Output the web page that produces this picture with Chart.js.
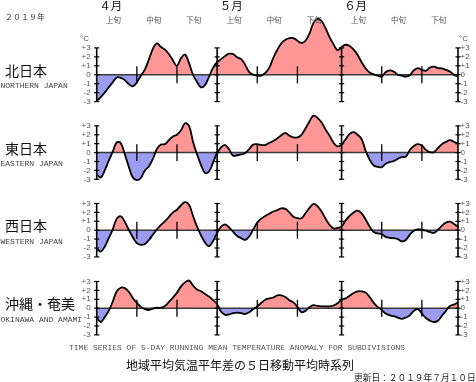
<!DOCTYPE html>
<html><head><meta charset="utf-8">
<script src="https://cdn.jsdelivr.net/npm/chart.js@4.4.0/dist/chart.umd.min.js"></script>
<style>
html,body{margin:0;padding:0;background:#fff;}
body{width:476px;height:382px;position:relative;overflow:hidden;font-family:"Noto Sans CJK JP","DejaVu Sans",sans-serif;}
canvas{position:absolute;left:0;}
.t{position:absolute;white-space:nowrap;line-height:1;transform:translateY(-50%);}
.c{transform:translate(-50%,-50%);}
.mono{font-family:"Liberation Mono","DejaVu Sans Mono",monospace;}
</style></head><body>
<script>
// ---- categories: days from April 1 to June 30, 2019 ----
const monthNums = [4, 5, 6];
const monthLengths = [30, 31, 30];
const dayLabels = [];
monthNums.forEach((m, k) => { for (let d = 1; d <= monthLengths[k]; d++) dayLabels.push(m + '/' + d); });

// ---- series: 5-day running mean temperature anomaly (°C) ----
const north = [-2.95,-2.5,-2.0,-1.4,-0.85,-0.3,-0.35,-0.6,-1.05,-1.3,
  -0.85,-0.1,0.6,1.7,2.9,3.5,3.1,2.8,2.3,1.6,
  1.0,1.85,2.25,1.3,0.0,-0.8,-1.4,-1.15,-0.2,0.8,
  1.4,1.75,2.1,2.35,2.3,1.95,1.75,1.1,0.3,0.0,
  -0.1,-0.1,0.2,0.8,1.9,2.8,3.5,3.9,4.1,4.1,
  3.8,3.55,3.8,4.6,5.8,6.25,6.0,5.2,4.2,3.4,
  2.75,3.1,3.35,3.2,2.8,2.2,1.4,0.7,0.25,0.05,
  -0.1,-0.2,0.3,0.5,0.35,0.0,-0.1,-0.2,-0.05,0.5,
  0.75,0.55,0.45,0.8,0.9,0.75,0.7,0.55,0.35,0.0,-0.2];
const east = [-2.45,-2.8,-2.0,-0.9,0.1,1.15,1.05,-0.2,-1.6,-2.8,
  -3.1,-2.85,-2.0,-1.55,-0.7,0.4,0.9,0.95,1.4,1.8,
  2.0,2.5,3.3,3.0,1.2,-0.2,-1.4,-2.3,-2.1,-1.1,
  -0.05,0.6,0.85,0.35,-0.35,-0.3,-0.2,-0.05,0.4,0.9,
  0.95,0.85,0.85,1.1,1.3,1.6,1.95,2.2,1.9,1.7,
  1.7,2.0,2.7,3.5,4.15,3.9,3.4,2.6,1.9,1.1,
  0.7,0.9,1.5,2.1,2.3,2.0,1.5,0.2,-0.8,-1.45,
  -1.6,-1.65,-1.25,-1.05,-0.95,-0.7,-0.5,-0.45,0.3,0.75,
  0.95,0.8,0.3,0.05,0.05,0.5,0.95,1.2,1.4,1.2,1.0];
const west = [-2.1,-2.4,-1.85,-0.9,0.1,1.3,1.55,0.95,0.05,-0.8,
  -1.45,-1.65,-1.55,-1.1,-0.5,0.1,0.6,1.0,1.5,2.0,
  2.3,2.8,3.15,2.85,1.6,0.4,-0.6,-1.4,-1.8,-1.2,
  -0.3,0.4,0.65,0.3,-0.2,-0.65,-0.9,-1.1,-0.7,0.1,
  0.85,1.3,1.6,1.85,2.1,2.25,2.45,2.4,2.0,1.5,
  1.35,1.35,1.9,2.5,2.95,2.7,2.1,1.3,0.6,0.2,
  0.25,0.4,1.1,1.6,2.0,2.2,1.9,1.2,0.4,-0.2,
  -0.35,-0.45,-0.75,-0.85,-0.9,-1.0,-1.25,-1.1,-0.5,-0.05,
  0.1,0.05,-0.05,-0.2,-0.3,0.05,0.5,0.85,0.95,0.7,0.4];
const okinawa = [-1.05,-1.55,-1.0,-0.3,0.75,1.9,2.3,2.25,1.85,1.15,
  0.6,0.15,-0.1,-0.2,-0.05,0.05,0.05,0.25,0.7,1.2,
  1.75,2.45,2.9,3.1,2.55,2.1,1.9,1.6,1.3,0.9,
  0.45,-0.4,-0.75,-0.7,-0.55,-0.5,-0.55,-0.65,-0.45,-0.1,
  0.2,0.6,0.95,1.1,1.2,1.45,1.45,1.25,0.9,0.65,
  0.15,-0.45,-0.3,0.1,0.35,0.25,0.2,0.2,0.2,0.3,
  0.55,0.95,1.1,1.4,1.7,1.9,1.9,1.75,1.25,0.6,
  0.15,-0.2,-0.6,-0.8,-0.9,-1.05,-1.2,-1.05,-0.8,-0.3,
  -0.1,-0.6,-1.1,-1.4,-1.55,-1.4,-0.85,-0.3,0.25,0.4,0.65];

// ---- tick labels and text ----
const yTickValues = [3, 2, 1, 0, -1, -2, -3];
const yTickLabels = ['+3', '+2', '+1', '0', '-1', '-2', '-3'];
const monthLabels = ['４月', '５月', '６月'];
const monthStarts = [0, 30, 61];
const dekadLabels = ['上旬', '中旬', '下旬'];
const dekadStarts = [0, 10, 20, 30, 40, 50, 61, 71, 81];
const axisDays = [0, 30, 61, 90];
const dekadMarks = [10, 20, 40, 50, 71, 81];
const regionNames = ['北日本', '東日本', '西日本', '沖縄・奄美'];
const regionEnglish = ['NORTHERN JAPAN', 'EASTERN JAPAN', 'WESTERN JAPAN', 'OKINAWA AND AMAMI'];
const seriesList = [north, east, west, okinawa];

// ---- layout / style ----
const RED = '#ff9696', BLUE = '#9b9bef';
const UNIT = 9.1, PAD = 10;
const panelZero = [75, 152.7, 230.3, 308.3];
const panelTop = [0, 100, 178, 256];
const panelH = [120, 95, 95, 95];

function addText(txt, x, y, css, cls) {
  const d = document.createElement('div');
  d.className = 't' + (cls ? ' ' + cls : '');
  d.textContent = txt;
  d.style.left = x + 'px';
  d.style.top = y + 'px';
  d.style.cssText += css;
  document.body.appendChild(d);
  return d;
}

const decor = {
  id: 'decor',
  beforeDatasetDraw(chart) {
    const {ctx, chartArea: a, scales: {y}} = chart;
    const y0 = y.getPixelForValue(0);
    ctx.save();
    ctx.strokeStyle = '#3a3a3a'; ctx.lineWidth = 1.5;
    ctx.beginPath(); ctx.moveTo(a.left, y0); ctx.lineTo(a.right, y0); ctx.stroke();
    ctx.restore();
  },
  afterDatasetsDraw(chart) {
    const {ctx, scales: {x, y}} = chart;
    ctx.save();
    ctx.strokeStyle = '#000';
    ctx.lineWidth = 1.6;
    axisDays.forEach(d => {
      const px = x.getPixelForValue(d);
      ctx.beginPath();
      ctx.moveTo(px, y.getPixelForValue(3)); ctx.lineTo(px, y.getPixelForValue(-3));
      ctx.stroke();
      ctx.lineWidth = 1.2;
      yTickValues.forEach(v => {
        const py = y.getPixelForValue(v);
        ctx.beginPath(); ctx.moveTo(px - 2.6, py); ctx.lineTo(px + 2.6, py); ctx.stroke();
      });
      ctx.lineWidth = 1.6;
    });
    ctx.lineWidth = 1.3;
    dekadMarks.forEach(d => {
      const px = x.getPixelForValue(d);
      ctx.beginPath();
      ctx.moveTo(px, y.getPixelForValue(0.95)); ctx.lineTo(px, y.getPixelForValue(-0.95));
      ctx.stroke();
    });
    ctx.restore();
  }
};

function yAxis(pos, minV, maxV) {
  return {
    position: pos, min: minV, max: maxV,
    grid: {display: false, drawTicks: false},
    border: {display: false},
    ticks: {
      autoSkip: false, padding: pos === 'left' ? 6 : 2.5, color: '#555',
      font: {family: 'Liberation Sans', size: 8},
      callback: v => yTickLabels[yTickValues.indexOf(v)]
    },
    afterBuildTicks: s => { s.ticks = yTickValues.map(v => ({value: v})); },
    afterFit: s => { s.width = pos === 'left' ? 96.7 : 18; }
  };
}

const charts = seriesList.map((vals, k) => {
  const cv = document.createElement('canvas');
  cv.width = 476; cv.height = panelH[k];
  cv.style.top = panelTop[k] + 'px';
  document.body.appendChild(cv);
  const maxV = (panelZero[k] - panelTop[k] - PAD) / UNIT;
  const minV = maxV - (panelH[k] - 2 * PAD) / UNIT;
  return new Chart(cv, {
    type: 'line',
    data: {
      labels: dayLabels,
      datasets: [{
        data: vals, borderColor: '#000', borderWidth: 1.8, pointRadius: 0,
        tension: 0.4, yAxisID: 'y',
        fill: {target: 'origin', above: RED, below: BLUE}
      }]
    },
    options: {
      responsive: false, animation: false, devicePixelRatio: 1,
      layout: {padding: {top: PAD, bottom: PAD, left: 0, right: 0}},
      plugins: {legend: {display: false}, tooltip: {enabled: false}},
      scales: {
        x: {type: 'category', display: false, offset: false},
        y: yAxis('left', minV, maxV),
        y2: yAxis('right', minV, maxV)
      }
    },
    plugins: [decor]
  });
});

// ---- text ----
const xs = charts[0].scales.x;
addText('２０１９年', 5, 16.5, 'font-size:8px;color:#333;');
monthLabels.forEach((m, k) => addText(m, xs.getPixelForValue(monthStarts[k] + 3.5), 6, 'font-size:11.5px;color:#111;', 'c'));
dekadStarts.forEach((d, k) => addText(dekadLabels[k % 3], xs.getPixelForValue(d + 4.2), 20.3, 'font-size:7.5px;color:#555;', 'c'));
addText('°C', 80, 39.3, 'font-size:8px;color:#555;font-family:Liberation Sans;');
addText('°C', 459, 39.3, 'font-size:8px;color:#555;font-family:Liberation Sans;');
regionNames.forEach((n, k) => {
  addText(n, 5, panelZero[k] - 5, 'font-size:14px;color:#111;');
  addText(regionEnglish[k], 0.5, panelZero[k] + 11.3, 'font-size:8px;color:#444;', 'mono');
});
addText('TIME SERIES OF 5-DAY RUNNING MEAN TEMPERATURE ANOMALY FOR SUBDIVISIONS', 69, 347.7, 'font-size:8px;color:#555;', 'mono');
addText('地域平均気温平年差の５日移動平均時系列', 126, 365, 'font-size:12px;color:#111;');
addText('更新日：２０１９年７月１０日', 354, 378.3, 'font-size:8.7px;color:#222;');
</script>
</body></html>
